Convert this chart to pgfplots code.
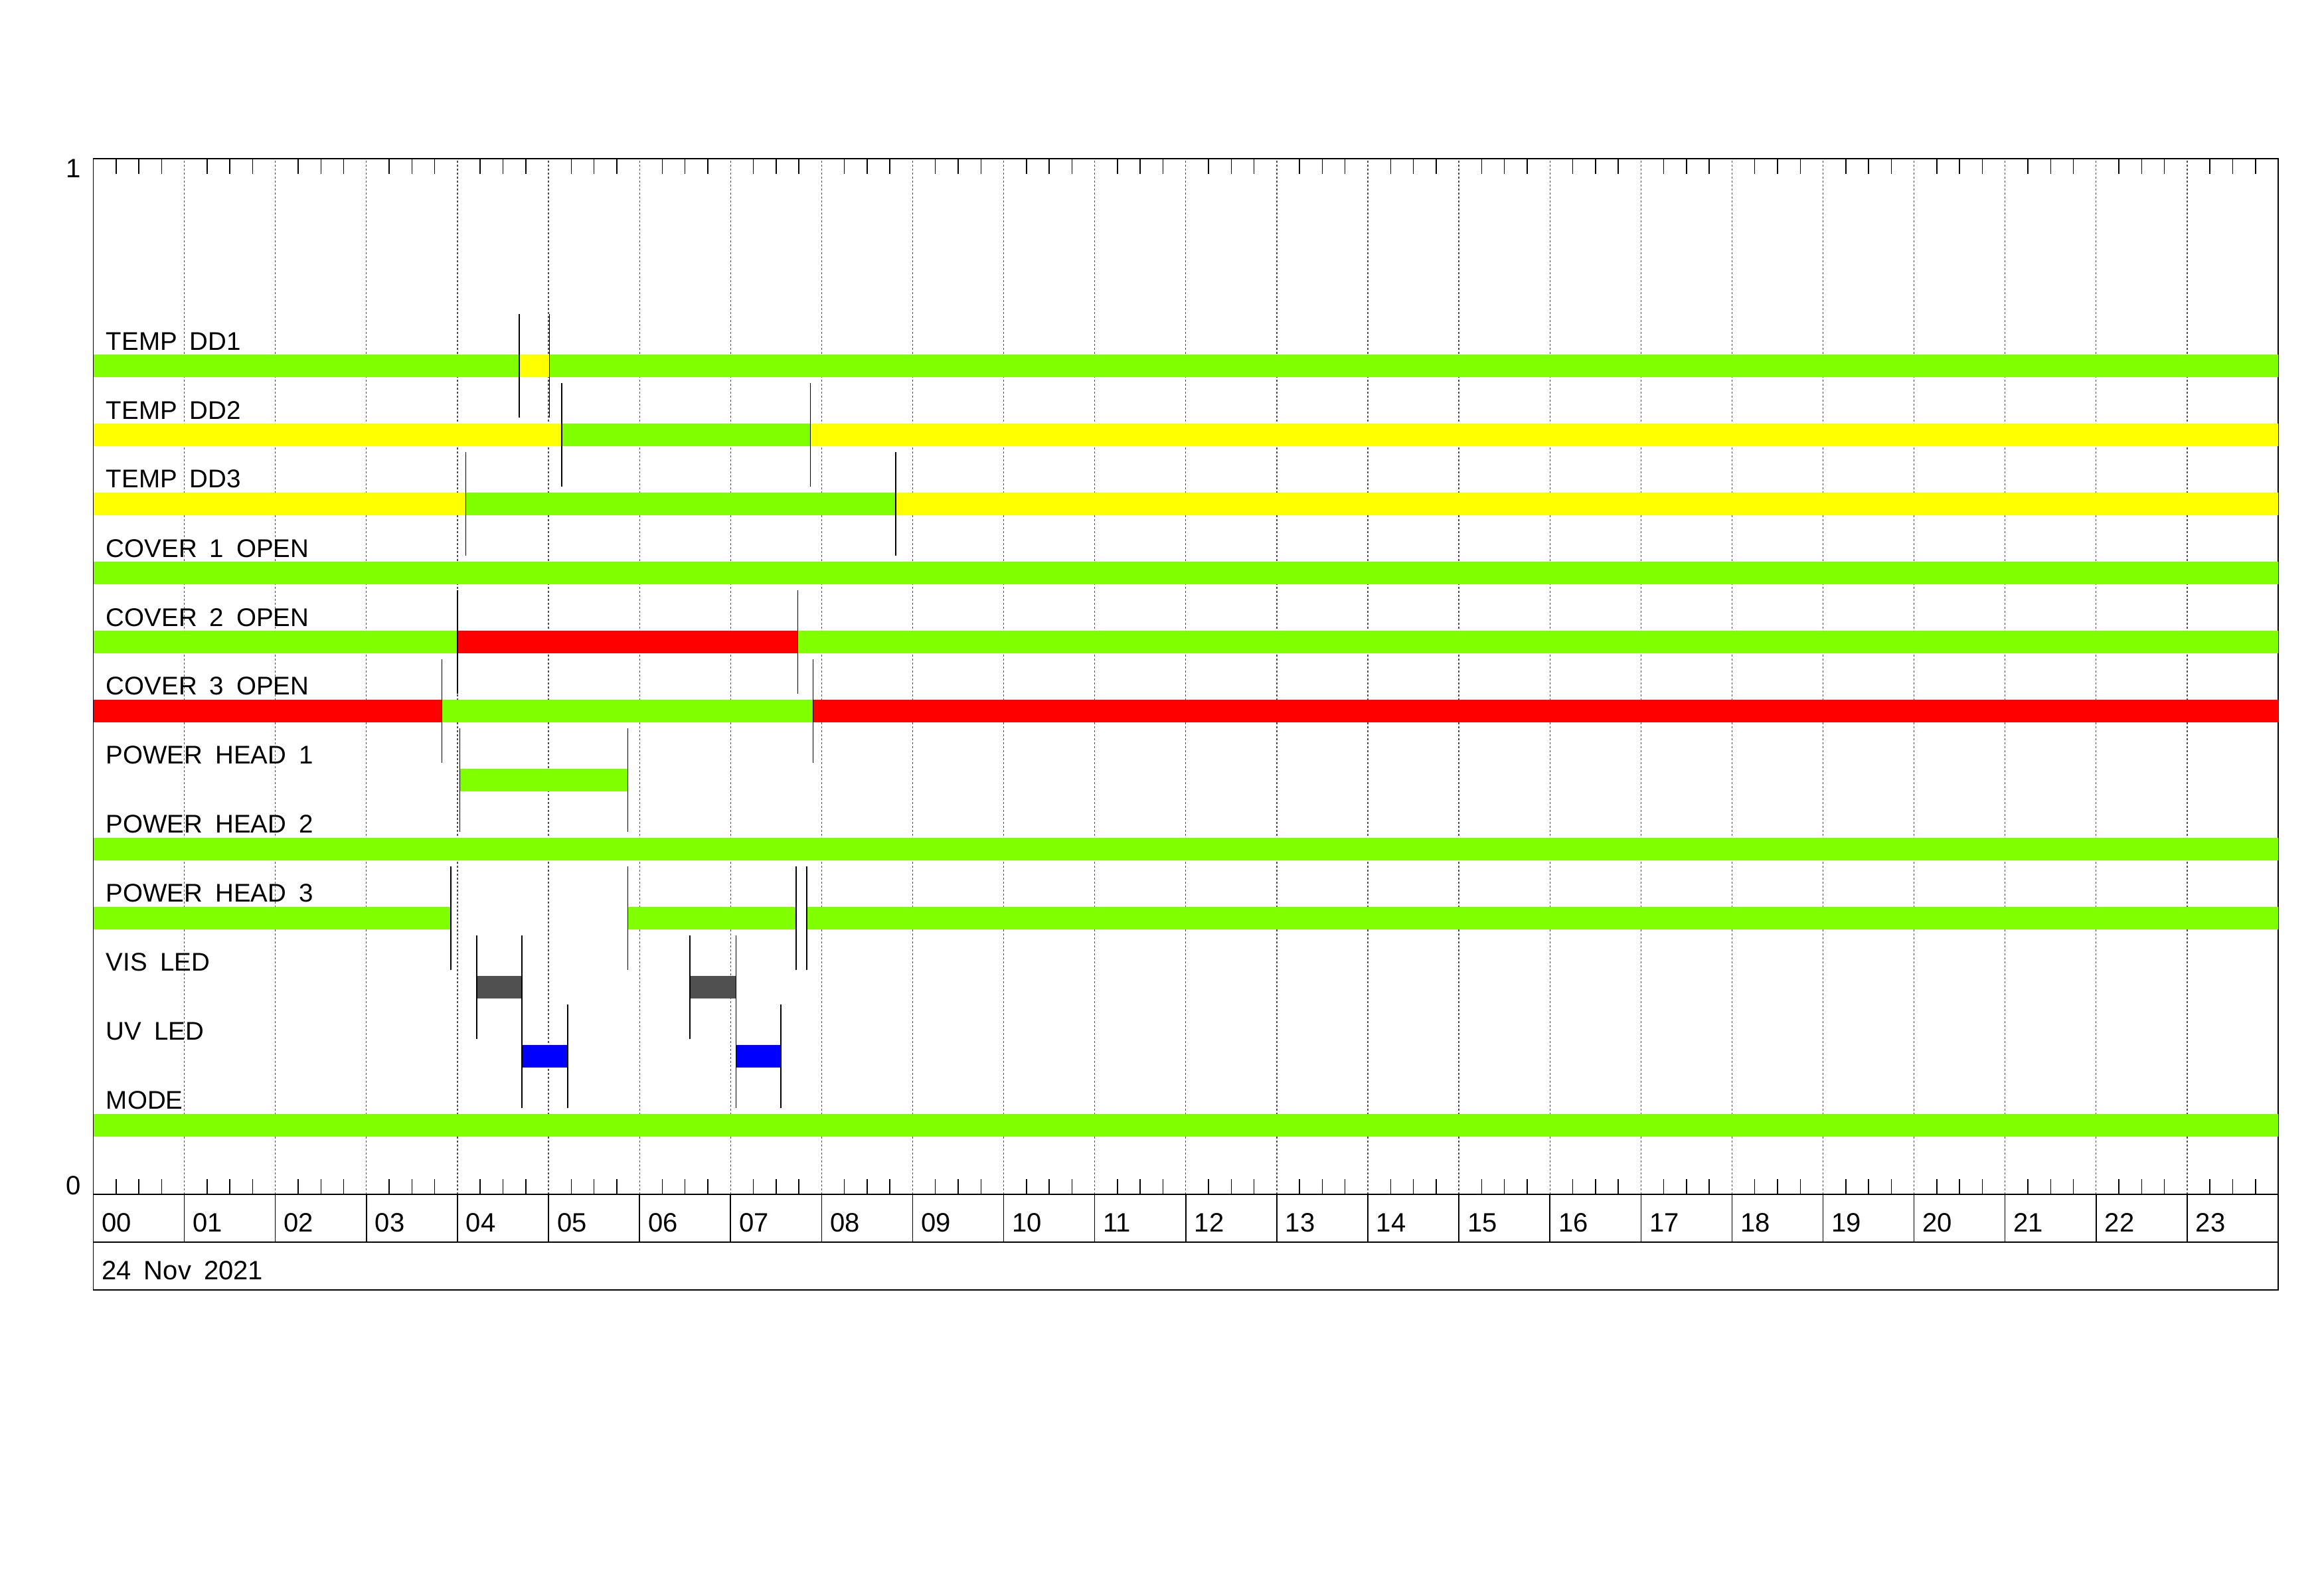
\documentclass[border=0pt]{standalone}
\usepackage{pgfplots}
\pgfplotsset{compat=1.18}
\usepackage{fontspec}
\setmainfont{Liberation Sans}
\definecolor{cgreen}{HTML}{7FFF00}
\definecolor{cyellow}{HTML}{FFFF00}
\definecolor{cred}{HTML}{FF0000}
\definecolor{cblue}{HTML}{0000FF}
\definecolor{cgray}{HTML}{505050}
\newcommand{\s}{\hspace{3.8pt}}
\newcommand{\rowlabel}[2]{\node[anchor=base west, inner sep=0pt, xshift=3.7pt] at (axis cs:0,#1+0.0155) {#2};}
\pgfplotsset{
  seg/.style={line width=6.8pt, line cap=butt, forget plot},
  trans/.style={black, line width=0.3pt, forget plot},
}
\begin{document}
\begin{tikzpicture}[font=\fontsize{7.7}{9.2}\selectfont]
\path[use as bounding box] (0,0) rectangle (700pt,480pt);
\begin{axis}[
  at={(28.1pt,120.2pt)}, anchor=south west,
  scale only axis, width=658.1pt, height=311.94pt,
  xmin=0, xmax=24, ymin=0, ymax=1,
  clip=false, no markers,
  axis line style={line width=0.35pt},
  xtick={0,...,24},
  xticklabels={00,01,02,03,04,05,06,07,08,09,10,11,12,13,14,15,16,17,18,19,20,21,22,23,{}},
  minor x tick num=3,
  major tick length=0pt, minor tick length=4.6pt,
  tick align=inside, xtick pos=both, xticklabel pos=lower,
  tick style={black, line width=0.3pt},
  ytick=\empty,
  xmajorgrids,
  major grid style={black!70, line width=0.25pt, dash pattern=on 0.6pt off 0.6pt},
  xticklabel style={anchor=base west, inner sep=0pt, xshift=2.4pt, yshift=-11.2pt, font=\fontsize{8}{9.6}\selectfont},
]
% ---- TEMP DD1 (y=0.8)
\addplot[seg, cgreen]  coordinates {(0,0.8) (4.68,0.8)};
\addplot[seg, cyellow] coordinates {(4.68,0.8) (5.01,0.8)};
\addplot[seg, cgreen]  coordinates {(5.01,0.8) (24,0.8)};
\addplot[trans] coordinates {(4.68,0.75) (4.68,0.85)};
\addplot[trans] coordinates {(5.01,0.75) (5.01,0.85)};
% ---- TEMP DD2 (y=0.7333)
\addplot[seg, cyellow] coordinates {(0,0.7333) (5.147,0.7333)};
\addplot[seg, cgreen]  coordinates {(5.147,0.7333) (7.877,0.7333)};
\addplot[seg, cyellow] coordinates {(7.877,0.7333) (24,0.7333)};
\addplot[trans] coordinates {(5.147,0.6833) (5.147,0.7833)};
\addplot[trans] coordinates {(7.877,0.6833) (7.877,0.7833)};
% ---- TEMP DD3 (y=0.6667)
\addplot[seg, cyellow] coordinates {(0,0.6667) (4.093,0.6667)};
\addplot[seg, cgreen]  coordinates {(4.093,0.6667) (8.816,0.6667)};
\addplot[seg, cyellow] coordinates {(8.816,0.6667) (24,0.6667)};
\addplot[trans] coordinates {(4.093,0.6167) (4.093,0.7167)};
\addplot[trans] coordinates {(8.816,0.6167) (8.816,0.7167)};
% ---- COVER 1 OPEN (y=0.6)
\addplot[seg, cgreen]  coordinates {(0,0.6) (24,0.6)};
% ---- COVER 2 OPEN (y=0.5333)
\addplot[seg, cgreen]  coordinates {(0,0.5333) (4.0,0.5333)};
\addplot[seg, cred]    coordinates {(4.0,0.5333) (7.739,0.5333)};
\addplot[seg, cgreen]  coordinates {(7.739,0.5333) (24,0.5333)};
\addplot[trans] coordinates {(4.0,0.4833) (4.0,0.5833)};
\addplot[trans] coordinates {(7.739,0.4833) (7.739,0.5833)};
% ---- COVER 3 OPEN (y=0.4667)
\addplot[seg, cred]    coordinates {(0,0.4667) (3.829,0.4667)};
\addplot[seg, cgreen]  coordinates {(3.829,0.4667) (7.906,0.4667)};
\addplot[seg, cred]    coordinates {(7.906,0.4667) (24,0.4667)};
\addplot[trans] coordinates {(3.829,0.4167) (3.829,0.5167)};
\addplot[trans] coordinates {(7.906,0.4167) (7.906,0.5167)};
% ---- POWER HEAD 1 (y=0.4)
\addplot[seg, cgreen]  coordinates {(4.026,0.4) (5.871,0.4)};
\addplot[trans] coordinates {(4.026,0.35) (4.026,0.45)};
\addplot[trans] coordinates {(5.871,0.35) (5.871,0.45)};
% ---- POWER HEAD 2 (y=0.3333)
\addplot[seg, cgreen]  coordinates {(0,0.3333) (24,0.3333)};
% ---- POWER HEAD 3 (y=0.2667)
\addplot[seg, cgreen]  coordinates {(0,0.2667) (3.929,0.2667)};
\addplot[seg, cgreen]  coordinates {(5.871,0.2667) (7.721,0.2667)};
\addplot[seg, cgreen]  coordinates {(7.836,0.2667) (24,0.2667)};
\addplot[trans] coordinates {(3.929,0.2167) (3.929,0.3167)};
\addplot[trans] coordinates {(5.871,0.2167) (5.871,0.3167)};
\addplot[trans] coordinates {(7.721,0.2167) (7.721,0.3167)};
\addplot[trans] coordinates {(7.836,0.2167) (7.836,0.3167)};
% ---- VIS LED (y=0.2)
\addplot[seg, cgray]   coordinates {(4.212,0.2) (4.709,0.2)};
\addplot[seg, cgray]   coordinates {(6.555,0.2) (7.060,0.2)};
\addplot[trans] coordinates {(4.212,0.15) (4.212,0.25)};
\addplot[trans] coordinates {(4.709,0.15) (4.709,0.25)};
\addplot[trans] coordinates {(6.555,0.15) (6.555,0.25)};
\addplot[trans] coordinates {(7.060,0.15) (7.060,0.25)};
% ---- UV LED (y=0.1333)
\addplot[seg, cblue]   coordinates {(4.709,0.1333) (5.211,0.1333)};
\addplot[seg, cblue]   coordinates {(7.060,0.1333) (7.554,0.1333)};
\addplot[trans] coordinates {(4.709,0.0833) (4.709,0.1833)};
\addplot[trans] coordinates {(5.211,0.0833) (5.211,0.1833)};
\addplot[trans] coordinates {(7.060,0.0833) (7.060,0.1833)};
\addplot[trans] coordinates {(7.554,0.0833) (7.554,0.1833)};
% ---- MODE (y=0.0667)
\addplot[seg, cgreen]  coordinates {(0,0.0667) (24,0.0667)};

% row labels
\rowlabel{0.8}{TEMP\s DD1}
\rowlabel{0.7333}{TEMP\s DD2}
\rowlabel{0.6667}{TEMP\s DD3}
\rowlabel{0.6}{COVER\s 1\s OPEN}
\rowlabel{0.5333}{COVER\s 2\s OPEN}
\rowlabel{0.4667}{COVER\s 3\s OPEN}
\rowlabel{0.4}{POWER\s HEAD\s 1}
\rowlabel{0.3333}{POWER\s HEAD\s 2}
\rowlabel{0.2667}{POWER\s HEAD\s 3}
\rowlabel{0.2}{VIS\s LED}
\rowlabel{0.1333}{UV\s LED}
\rowlabel{0.0667}{MODE}
% y labels
\node[anchor=north east, inner sep=0pt, xshift=-3.6pt, font=\fontsize{8}{9.6}\selectfont] at (axis cs:0,1) {1};
\node[anchor=base east, inner sep=0pt, xshift=-3.6pt, font=\fontsize{8}{9.6}\selectfont] at (axis cs:0,0) {0};
% hour label box and date box
\pgfplotsinvokeforeach{1,...,23}{\draw[line width=0.3pt] (axis cs:#1,0) -- (axis cs:#1,-0.04616);}
\draw[line width=0.35pt] (axis cs:0,-0.04616) -- (axis cs:24,-0.04616);
\draw[line width=0.35pt] (axis cs:0,0) -- (axis cs:0,-0.09232) -- (axis cs:24,-0.09232) -- (axis cs:24,0);
\node[anchor=base west, inner sep=0pt, xshift=2.4pt, yshift=-25.7pt, font=\fontsize{8}{9.6}\selectfont] at (axis cs:0,0) {24\s Nov\s 2021};
\end{axis}
\end{tikzpicture}
\end{document}
